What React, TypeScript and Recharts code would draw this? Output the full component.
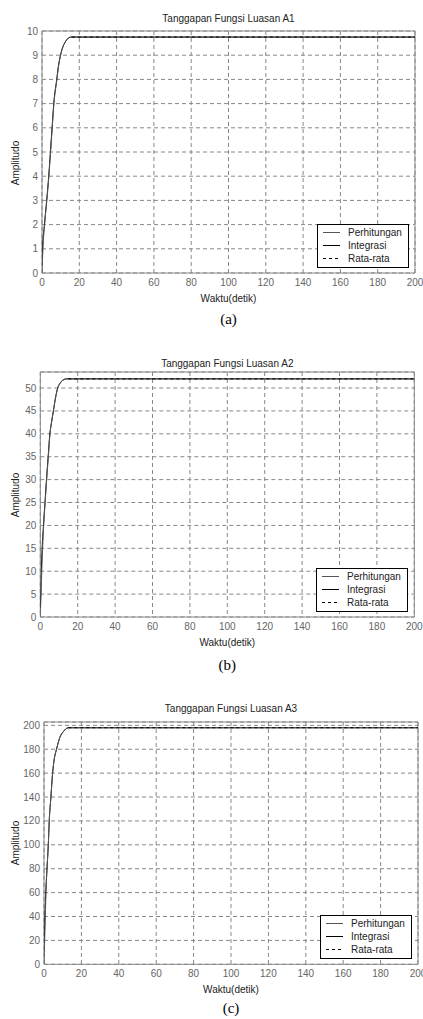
import React from "react";
import {
  LineChart,
  Line,
  XAxis,
  YAxis,
  CartesianGrid,
  ReferenceArea,
  Legend,
} from "recharts";

// Sumbu waktu (detik) - sama untuk ketiga grafik
const waktuTicks = [0, 20, 40, 60, 80, 100, 120, 140, 160, 180, 200];

// Grafik A1
const waktuA = [0, 0.5, 1.4, 2.6, 3.7, 4.6, 5.5, 6.4, 8, 8.8, 10, 11, 12.5, 14, 15.7, 200];
const perhitunganA = [0, 1, 2, 3, 4, 5, 6, 7, 8, 8.5, 9, 9.3, 9.55, 9.7, 9.75, 9.75];
const waktuIntA = [0, 0.3, 1.3, 2.5, 3.6, 4.5, 5.4, 6.3, 7.9, 8.7, 9.9, 11, 12.5, 14, 15.7, 200];
const integrasiA = [0.3, 1, 2, 3, 4, 5, 6, 7, 8, 8.5, 9, 9.3, 9.55, 9.7, 9.75, 9.75];
const waktuRataA = [16, 200];
const rataA = [9.75, 9.75];
const ticksA = [0, 1, 2, 3, 4, 5, 6, 7, 8, 9, 10];

// Grafik A2
const waktuB = [0, 0.4, 0.8, 1.8, 2.6, 3.4, 4.3, 5.2, 6, 7, 8.2, 9.3, 10.5, 12, 14, 200];
const perhitunganB = [0, 5, 10, 20, 25, 30, 35, 40, 42.5, 45, 48, 50, 51, 51.7, 52, 52];
const waktuIntB = [0, 0.3, 0.7, 1.7, 2.5, 3.3, 4.2, 5.1, 6, 7, 8.2, 9.3, 10.5, 12, 14, 200];
const integrasiB = [2, 6, 12, 20, 25, 30, 35, 40, 42.5, 45, 48, 50, 51, 51.7, 52, 52];
const waktuRataB = [15, 200];
const rataB = [52, 52];
const ticksB = [0, 5, 10, 15, 20, 25, 30, 35, 40, 45, 50];

// Grafik A3
const waktuC = [0, 0.35, 0.7, 1.06, 1.6, 2.3, 2.8, 3.7, 4.6, 5.5, 6.7, 8.5, 10.5, 12.9, 200];
const perhitunganC = [0, 20, 40, 60, 80, 100, 120, 140, 160, 172, 180, 190, 195, 198, 198];
const waktuIntC = [0, 0.3, 0.6, 1, 1.6, 2.3, 2.8, 3.7, 4.6, 5.5, 6.7, 8.5, 10.5, 12.9, 200];
const integrasiC = [10, 28, 45, 62, 80, 100, 120, 140, 160, 172, 180, 190, 195, 198, 198];
const waktuRataC = [13, 200];
const rataC = [198, 198];
const ticksC = [0, 20, 40, 60, 80, 100, 120, 140, 160, 180, 200];

const toRows = (t: number[], y: number[]) => t.map((v, i) => ({ t: v, y: y[i] }));

const SANS = "'Liberation Sans', Arial, sans-serif";
const tickStyle = { fontSize: 10, fill: "#666", fontFamily: SANS };

const legendItems = [
  { label: "Perhitungan", color: "#555", dash: undefined },
  { label: "Integrasi", color: "#000", dash: undefined },
  { label: "Rata-rata", color: "#000", dash: "3 3" },
];

const LegendBox = () => (
  <div
    style={{
      border: "1px solid #000",
      background: "#fff",
      width: 90,
      height: 41,
      boxSizing: "content-box",
      fontFamily: SANS,
      fontSize: 10,
      color: "#222",
      paddingTop: 1,
    }}
  >
    {legendItems.map((it) => (
      <div key={it.label} style={{ display: "flex", alignItems: "center", height: 13 }}>
        <svg width={28} height={13}>
          <line x1={5} x2={22} y1={6.5} y2={6.5} stroke={it.color} strokeDasharray={it.dash} />
        </svg>
        <span style={{ marginLeft: 2 }}>{it.label}</span>
      </div>
    ))}
  </div>
);

interface PanelProps {
  title: string;
  caption: string;
  plotLeft: number;
  plotRight: number;
  plotTop: number;
  plotBottom: number;
  yMax: number;
  yTicks: number[];
  perhitungan: { t: number; y: number }[];
  integrasi: { t: number; y: number }[];
  rata: { t: number; y: number }[];
  titleY: number;
  xLabelY: number;
  captionY: number;
  yLabelY: number;
  legendLeft: number;
  legendTop: number;
}

const Panel: React.FC<PanelProps> = (p) => {
  const padTop = 10;
  const xAxisH = 20;
  const height = padTop + (p.plotBottom - p.plotTop) + xAxisH;
  const centerX = (p.plotLeft + p.plotRight) / 2;
  const chartTop = p.plotTop - padTop;

  return (
    <>
      <div
        style={{
          position: "absolute",
          left: centerX,
          top: p.titleY,
          transform: "translate(-50%, -50%)",
          fontFamily: SANS,
          fontSize: 10,
          color: "#222",
          whiteSpace: "nowrap",
        }}
      >
        {p.title}
      </div>
      <div style={{ position: "absolute", left: 0, top: chartTop }}>
        <LineChart
          width={423}
          height={height}
          margin={{ top: padTop, right: 423 - p.plotRight, left: 0, bottom: 0 }}
        >
          <CartesianGrid stroke="#888" strokeDasharray="4 3" />
          <XAxis
            dataKey="t"
            type="number"
            domain={[0, 200]}
            ticks={waktuTicks}
            interval={0}
            tick={tickStyle}
            tickSize={0}
            tickMargin={6}
            axisLine={false}
            tickLine={false}
            height={xAxisH}
            allowDataOverflow
          />
          <YAxis
            type="number"
            domain={[0, p.yMax]}
            ticks={p.yTicks}
            interval={0}
            tick={tickStyle}
            tickSize={0}
            tickMargin={4}
            axisLine={false}
            tickLine={false}
            width={p.plotLeft}
            allowDataOverflow
          />
          <ReferenceArea
            x1={0}
            x2={200}
            y1={0}
            y2={p.yMax}
            fill="none"
            stroke="#888"
            strokeWidth={1}
            ifOverflow="visible"
          />
          <Line
            data={p.integrasi}
            dataKey="y"
            name="Integrasi"
            type="monotone"
            stroke="#000"
            strokeWidth={1}
            dot={false}
            isAnimationActive={false}
          />
          <Line
            data={p.perhitungan}
            dataKey="y"
            name="Perhitungan"
            type="monotone"
            stroke="#555"
            strokeWidth={1}
            dot={false}
            isAnimationActive={false}
          />
          <Line
            data={p.rata}
            dataKey="y"
            name="Rata-rata"
            type="linear"
            stroke="#000"
            strokeWidth={1}
            strokeDasharray="3 3"
            dot={false}
            isAnimationActive={false}
          />
          <Legend
            layout="horizontal"
            verticalAlign="middle"
            align="center"
            content={() => <LegendBox />}
            wrapperStyle={{
              position: "absolute",
              left: p.legendLeft,
              top: p.legendTop - chartTop,
              width: "auto",
            }}
          />
        </LineChart>
      </div>
      <div
        style={{
          position: "absolute",
          left: 15,
          top: p.yLabelY,
          transform: "translate(-50%, -50%) rotate(-90deg)",
          fontFamily: SANS,
          fontSize: 10,
          color: "#222",
          whiteSpace: "nowrap",
        }}
      >
        Amplitudo
      </div>
      <div
        style={{
          position: "absolute",
          left: centerX,
          top: p.xLabelY,
          transform: "translate(-50%, -50%)",
          fontFamily: SANS,
          fontSize: 10,
          color: "#222",
          whiteSpace: "nowrap",
        }}
      >
        Waktu(detik)
      </div>
      <div
        style={{
          position: "absolute",
          left: centerX,
          top: p.captionY,
          transform: "translate(-50%, -50%)",
          fontFamily: "'Liberation Serif', 'Times New Roman', serif",
          fontSize: 15,
          color: "#000",
          whiteSpace: "nowrap",
        }}
      >
        {p.caption}
      </div>
    </>
  );
};

const App: React.FC = () => {
  return (
    <div
      style={{
        position: "absolute",
        left: 0,
        top: 0,
        width: 423,
        height: 1019,
        background: "#fff",
        overflow: "hidden",
      }}
    >
      <Panel
        title="Tanggapan Fungsi Luasan A1"
        caption="(a)"
        plotLeft={42}
        plotRight={415}
        plotTop={30.7}
        plotBottom={272.7}
        yMax={10}
        yTicks={ticksA}
        perhitungan={toRows(waktuA, perhitunganA)}
        integrasi={toRows(waktuIntA, integrasiA)}
        rata={toRows(waktuRataA, rataA)}
        titleY={18}
        xLabelY={298}
        captionY={319}
        yLabelY={163}
        legendLeft={317}
        legendTop={224}
      />
      <Panel
        title="Tanggapan Fungsi Luasan A2"
        caption="(b)"
        plotLeft={40.3}
        plotRight={414.3}
        plotTop={372.3}
        plotBottom={617.3}
        yMax={53.5}
        yTicks={ticksB}
        perhitungan={toRows(waktuB, perhitunganB)}
        integrasi={toRows(waktuIntB, integrasiB)}
        rata={toRows(waktuRataB, rataB)}
        titleY={363}
        xLabelY={642}
        captionY={665}
        yLabelY={495}
        legendLeft={316}
        legendTop={568}
      />
      <Panel
        title="Tanggapan Fungsi Luasan A3"
        caption="(c)"
        plotLeft={44}
        plotRight={418}
        plotTop={721.7}
        plotBottom={964}
        yMax={202.8}
        yTicks={ticksC}
        perhitungan={toRows(waktuC, perhitunganC)}
        integrasi={toRows(waktuIntC, integrasiC)}
        rata={toRows(waktuRataC, rataC)}
        titleY={708}
        xLabelY={989}
        captionY={1008}
        yLabelY={843}
        legendLeft={320}
        legendTop={915}
      />
    </div>
  );
};

export default App;
